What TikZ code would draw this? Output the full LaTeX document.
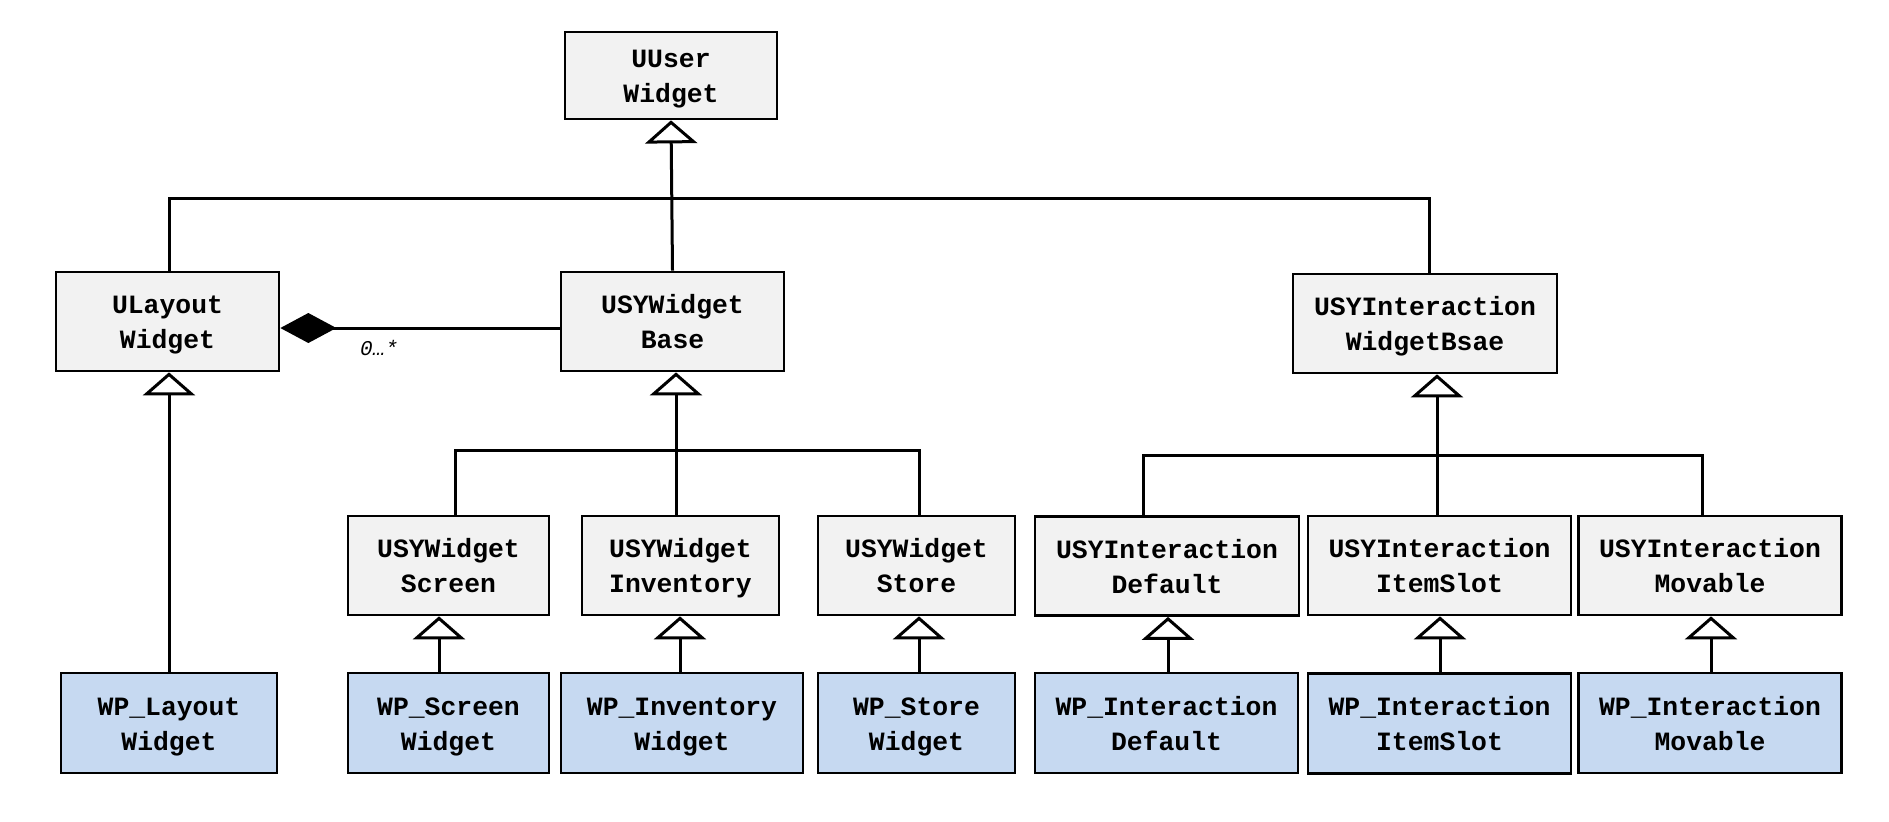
\documentclass[tikz,border=0pt]{standalone}
\usepackage{fontspec}
\setmonofont{Liberation Mono}
\usetikzlibrary{arrows.meta}
\definecolor{boxgray}{HTML}{F2F2F2}
\definecolor{boxblue}{HTML}{C6D9F1}
\begin{document}
\begin{tikzpicture}[x=0.5pt,y=-0.5pt,
  cls/.style={draw=black,line width=1.35pt,fill=boxgray,inner sep=0pt,align=center,
    font=\ttfamily\bfseries\fontsize{13.2}{17.5}\selectfont,minimum height=49.5pt,
    text height=30pt,text depth=3pt},
  impl/.style={cls,fill=boxblue,minimum height=50pt},
  conn/.style={line width=1.5pt},
  inherit/.style={conn,-{Triangle[length=11.5pt,width=26pt,fill=white]}},
  compo/.style={conn,-{Diamond[length=28pt,width=15pt]}},
  mult/.style={font=\ttfamily\itshape\fontsize{10.5}{12}\selectfont,inner sep=0pt},
]
\useasboundingbox (0,0) rectangle (1889,821);
% parent classes
\node[cls,minimum width=106pt,minimum height=43.5pt] (uuser) at (671,75.5) {UUser\\Widget};
\node[cls,minimum width=111.5pt] (ulayout) at (167.5,321.5) {ULayout\\Widget};
\node[cls,minimum width=111.5pt] (wbase) at (672.5,321.5) {USYWidget\\Base};
\node[cls,minimum width=132pt] (ibase) at (1425,323.5) {USYInteraction\\WidgetBsae};
% second level
\node[cls,minimum width=100.5pt] (wscreen) at (448.5,565.5) {USYWidget\\Screen};
\node[cls,minimum width=98.5pt] (winv) at (680.5,565.5) {USYWidget\\Inventory};
\node[cls,minimum width=98.5pt] (wstore) at (916.5,565.5) {USYWidget\\Store};
\node[cls,minimum width=132pt] (idef) at (1167,566) {USYInteraction\\Default};
\node[cls,minimum width=131.5pt] (islot) at (1439.5,565.5) {USYInteraction\\ItemSlot};
\node[cls,minimum width=131.75pt] (imov) at (1710,565.5) {USYInteraction\\Movable};
% implementations
\node[impl,minimum width=108pt] (pLayout) at (169,723) {WP\_Layout\\Widget};
\node[impl,minimum width=100.5pt] (pScreen) at (448.5,723) {WP\_Screen\\Widget};
\node[impl,minimum width=121pt] (pInv) at (682,723) {WP\_Inventory\\Widget};
\node[impl,minimum width=98.5pt] (pStore) at (916.5,723) {WP\_Store\\Widget};
\node[impl,minimum width=131.5pt] (pDef) at (1166.5,723) {WP\_Interaction\\Default};
\node[impl,minimum width=131.5pt] (pSlot) at (1439.5,723.5) {WP\_Interaction\\ItemSlot};
\node[impl,minimum width=131.75pt] (pMov) at (1710,723) {WP\_Interaction\\Movable};
% top bar
\coordinate (tbL) at (169,198);
\coordinate (tbR) at (1429,198);
\draw[conn] (ulayout.north -| tbL) -- (tbL) -- (tbR) -- (ibase.north -| tbR);
\draw[inherit] (wbase.north) -- (uuser.south);
% composition
\draw[compo] ([yshift=-3.25pt]wbase.west) -- ([yshift=-3.25pt]ulayout.east);
\node[mult,anchor=base] (mlabel) at (379,355) {0…*};
% widget bar
\coordinate (b1L) at (455,450);
\coordinate (b1R) at (919,450);
\coordinate (b1M) at (676,450);
\draw[conn] (wscreen.north -| b1L) -- (b1L) -- (b1R) -- (wstore.north -| b1R);
\draw[inherit] (winv.north -| b1M) -- (wbase.south -| b1M);
% interaction bar
\coordinate (b2L) at (1143,455);
\coordinate (b2R) at (1702,455);
\coordinate (b2M) at (1437,455);
\draw[conn] (idef.north -| b2L) -- (b2L) -- (b2R) -- (imov.north -| b2R);
\draw[inherit] (islot.north -| b2M) -- (ibase.south -| b2M);
% implementation arrows
\coordinate (xL) at (169,0);
\coordinate (xS) at (439,0);
\coordinate (xI) at (680,0);
\coordinate (xT) at (919,0);
\coordinate (xD) at (1168,0);
\coordinate (xE) at (1440,0);
\coordinate (xM) at (1711,0);
\draw[inherit] (pLayout.north -| xL) -- (ulayout.south -| xL);
\draw[inherit] (pScreen.north -| xS) -- (wscreen.south -| xS);
\draw[inherit] (pInv.north -| xI) -- (winv.south -| xI);
\draw[inherit] (pStore.north -| xT) -- (wstore.south -| xT);
\draw[inherit] (pDef.north -| xD) -- (idef.south -| xD);
\draw[inherit] (pSlot.north -| xE) -- (islot.south -| xE);
\draw[inherit] (pMov.north -| xM) -- (imov.south -| xM);
\end{tikzpicture}
\end{document}
